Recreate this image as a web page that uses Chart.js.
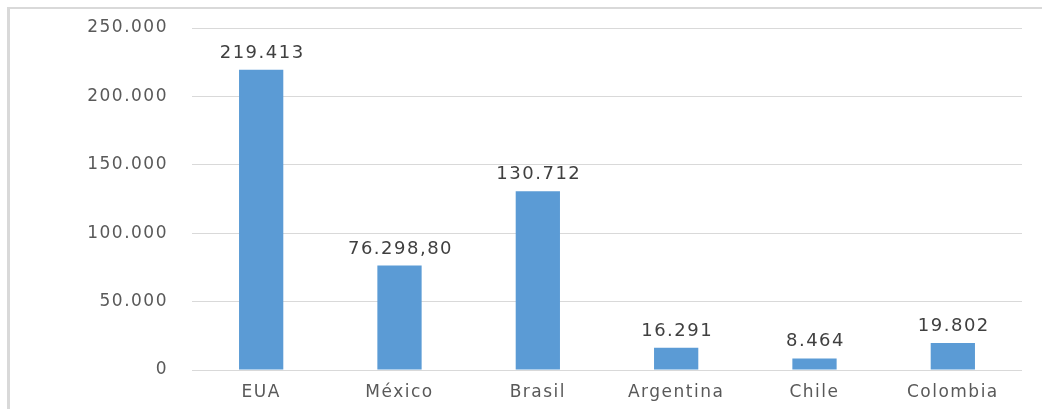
<!DOCTYPE html>
<html>
<head>
<meta charset="utf-8">
<script src="https://cdn.jsdelivr.net/npm/chart.js@4"></script>
<style>
  html, body { margin: 0; padding: 0; background: #fff; overflow: hidden; }
  #wrap { position: absolute; left: 0; top: 0; width: 1042px; height: 409px; }
</style>
</head>
<body>
<div id="wrap"><canvas id="chart"></canvas></div>
<script>
var countries = ['EUA', 'México', 'Brasil', 'Argentina', 'Chile', 'Colombia'];
var values = [219413, 76298.80, 130712, 16291, 8464, 19802];
var valueLabels = ['219.413', '76.298,80', '130.712', '16.291', '8.464', '19.802'];
var yTicks = ['0', '50.000', '100.000', '150.000', '200.000', '250.000'];

// texto mais largo, como no original + moldura cinza (topo e esquerda)
var spacing = {
  id: 'spacing',
  beforeLayout: function (chart) { chart.ctx.letterSpacing = '1.5px'; },
  beforeDraw: function (chart) {
    var c = chart.ctx;
    c.save();
    c.fillStyle = '#d9d9d9';
    c.fillRect(7, 7, chart.width - 7, 2);
    c.fillRect(7, 7, 3, chart.height - 7);
    c.restore();
    c.letterSpacing = '1.5px';
  }
};

// rótulos de valor sobre as barras
var barLabels = {
  id: 'barLabels',
  afterDatasetsDraw: function (chart) {
    var ctx = chart.ctx;
    var bars = chart.getDatasetMeta(0).data;
    ctx.save();
    ctx.letterSpacing = '1.5px';
    ctx.font = '18px "DejaVu Sans"';
    ctx.fillStyle = '#404040';
    ctx.textAlign = 'center';
    ctx.textBaseline = 'alphabetic';
    for (var i = 0; i < bars.length; i++) {
      ctx.fillText(valueLabels[i], bars[i].x + 1, bars[i].y - 12);
    }
    ctx.restore();
  }
};

var ctx = document.getElementById('chart');
var myChart = new Chart(ctx, {
  type: 'bar',
  data: {
    labels: countries,
    datasets: [{
      data: values,
      backgroundColor: '#5b9bd5',
      categoryPercentage: 1,
      barPercentage: 0.32
    }]
  },
  options: {
    responsive: true,
    maintainAspectRatio: false,
    animation: false,
    layout: { padding: { left: 0, right: 20, top: 28, bottom: 0 } },
    plugins: {
      legend: { display: false },
      tooltip: { enabled: false }
    },
    scales: {
      x: {
        grid: { display: false, drawTicks: false },
        border: { display: false },
        ticks: {
          padding: 12,
          color: '#595959',
          font: { family: '"DejaVu Sans"', size: 17 }
        },
        afterFit: function (scale) { scale.height = 39; }
      },
      y: {
        min: 0,
        max: 250000,
        grid: { color: '#d9d9d9', lineWidth: 1, drawTicks: false },
        border: { display: false },
        ticks: {
          stepSize: 50000,
          padding: 24,
          color: '#595959',
          font: { family: '"DejaVu Sans"', size: 17 },
          callback: function (value, index) { return yTicks[index]; }
        },
        afterFit: function (scale) {
          scale.width = 192;
          scale.paddingTop = 10;
          scale.paddingBottom = 10;
        }
      }
    }
  },
  plugins: [spacing, barLabels]
});
</script>
</body>
</html>
